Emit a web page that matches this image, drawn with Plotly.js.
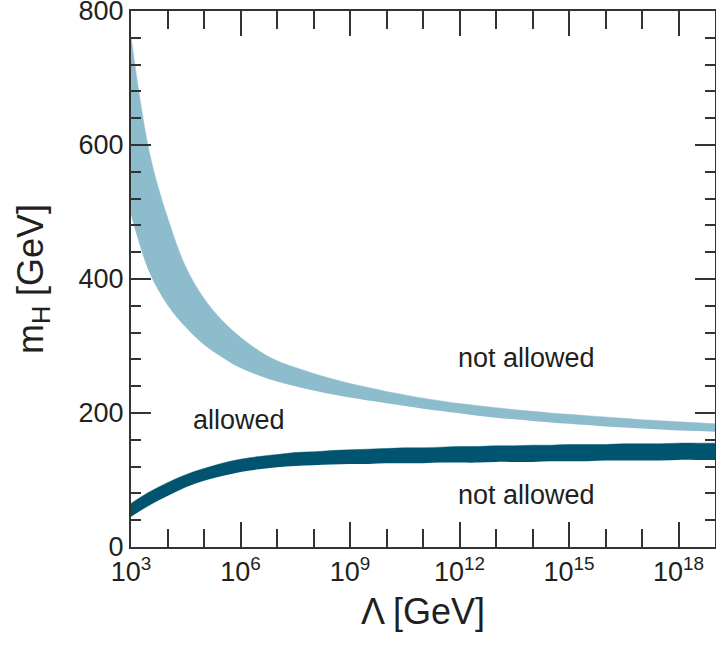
<!DOCTYPE html>
<html>
<head>
<meta charset="utf-8">
<script src="https://cdn.plot.ly/plotly-3.0.1.min.js"></script>
<style>html,body{margin:0;padding:0;background:#fff;}#chart{width:716px;height:645px;}</style>
</head>
<body>
<div id="chart"></div>
<script>
// log10 of cutoff scale Lambda [GeV] (the x axis is drawn in decades of Lambda)
const logLambda = [3, 3.5, 4, 4.5, 5, 5.5, 6, 6.5, 7, 7.5, 8, 8.5, 9, 9.5, 10, 10.5, 11, 11.5, 12, 12.5, 13, 13.5, 14, 14.5, 15, 15.5, 16, 16.5, 17, 17.5, 18, 18.5, 19];
// upper band (triviality bound): upper and lower edges, m_H [GeV]
const trivHigh = [762, 590, 492, 418, 371, 338, 313, 293, 278, 268, 259, 251, 244, 238, 232, 227, 222, 218, 214, 211, 208, 205, 202.5, 200, 198, 196, 194, 192, 190, 188.5, 187, 185.5, 184];
const trivLow  = [496, 410, 361, 328, 302, 283, 267, 256, 247, 240, 233.5, 228, 223, 218.5, 214.5, 210.5, 206.5, 203, 199.5, 196, 193, 190.5, 188, 186, 184, 182, 180, 178.5, 177, 175.5, 174, 173, 172];
// lower band (vacuum stability bound): upper and lower edges, m_H [GeV]
const stabHigh = [65, 82, 96, 108, 117, 125, 131, 135, 138, 141, 142, 144, 145, 146, 147, 148, 148, 149, 150, 150, 151, 151, 152, 152, 153, 153, 153, 154, 154, 154, 155, 155, 155];
const stabLow  = [45, 62, 76, 89, 99, 106, 112, 116, 119, 121, 122, 123, 124, 124, 125, 125, 125, 126, 126, 126, 127, 127, 127, 128, 128, 128, 129, 129, 129, 129, 130, 130, 130];

const majorExp = [3, 6, 9, 12, 15, 18];
const yMajor = [0, 200, 400, 600, 800];

const labels = [
  {text: "allowed", logX: 5.96, y: 190},
  {text: "not allowed", logX: 13.84, y: 282},
  {text: "not allowed", logX: 13.84, y: 78}
];

const lightCol = "#8dbdcc";
const darkCol = "#00546f";
const ink = "#231f20";
const axCol = "#333";
const font = "Liberation Sans, Arial, Helvetica, sans-serif";

function band(lo, hi, col) {
  return [
    {x: logLambda, y: lo, mode: "lines", line: {width: 0, shape: "spline", smoothing: 1, color: col}, hoverinfo: "skip", showlegend: false},
    {x: logLambda, y: hi, mode: "lines", fill: "tonexty", fillcolor: col, line: {width: 0.5, shape: "spline", smoothing: 1, color: col}, hoverinfo: "skip", showlegend: false}
  ];
}

const data = [...band(trivLow, trivHigh, lightCol), ...band(stabLow, stabHigh, darkCol)];

const layout = {
  width: 716, height: 645,
  margin: {l: 131, r: 1, t: 11, b: 98},
  paper_bgcolor: "#fff", plot_bgcolor: "#fff",
  showlegend: false,
  xaxis: {
    range: [3, 19],
    showline: true, linewidth: 2, linecolor: axCol,
    mirror: "ticks", showgrid: false, zeroline: false,
    tickmode: "array",
    tickvals: majorExp,
    ticktext: majorExp.map(e => "10<sup>" + e + "</sup>"),
    ticks: "inside", ticklen: 25, tickwidth: 2, tickcolor: axCol,
    minor: {dtick: 1, tick0: 0, ticks: "inside", ticklen: 18, tickwidth: 2, tickcolor: axCol, showgrid: false},
    tickfont: {family: font, size: 27, color: ink},
    title: {text: "Λ [GeV]", font: {family: font, size: 36, color: ink}, standoff: 12}
  },
  yaxis: {
    range: [0, 800],
    showline: true, linewidth: 2, linecolor: axCol,
    mirror: "ticks", showgrid: false, zeroline: false,
    ticklabeloverflow: "allow",
    tickmode: "array", tickvals: yMajor, ticktext: yMajor.map(String),
    ticks: "inside", ticklen: 20, tickwidth: 2, tickcolor: axCol,
    minor: {dtick: 40, ticks: "inside", ticklen: 10, tickwidth: 2, tickcolor: axCol, showgrid: false},
    tickfont: {family: font, size: 27, color: ink},
    title: {text: "m<sub>H</sub> [GeV]", font: {family: font, size: 36, color: ink}, standoff: 24}
  },
  annotations: labels.map(l => ({
    x: l.logX, y: l.y, xref: "x", yref: "y", text: l.text, showarrow: false,
    font: {family: font, size: 27, color: ink}, xanchor: "center", yanchor: "middle"
  }))
};

Plotly.newPlot("chart", data, layout, {staticPlot: true, displayModeBar: false});
</script>
</body>
</html>
